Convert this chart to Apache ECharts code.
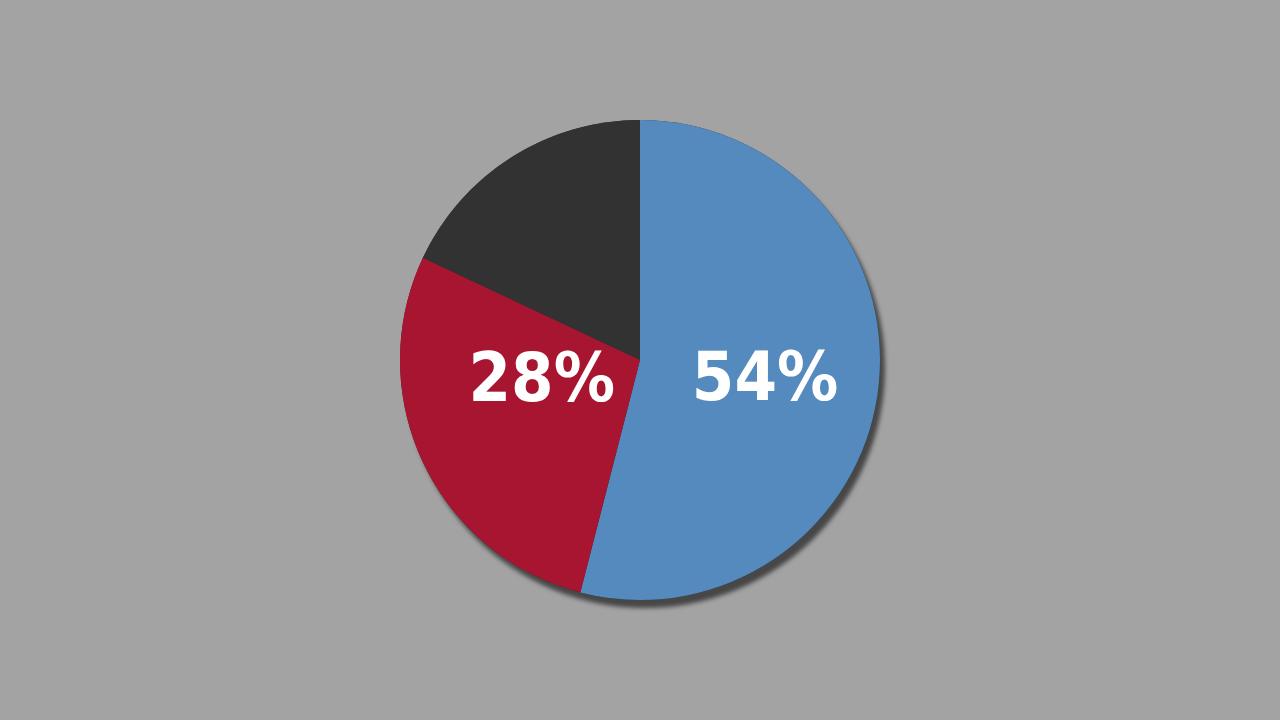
<!DOCTYPE html>
<html>
<head>
    <meta charset="utf-8">
    <title>Pie</title>
    <script src="https://cdn.jsdelivr.net/npm/echarts@6/dist/echarts.min.js"></script>
    <style>
        html, body { margin: 0; padding: 0; background: #a3a3a3; }
    </style>
</head>
<body>
    <div id="c" style="width: 1280px;height:720px;"></div>
    <script>
        // slice data, clockwise from 12 o'clock
        var names = ['A', 'B', 'C'];
        var values = [54, 28, 18];
        var colors = ['#548abd', '#a71530', '#323232'];
        var showLabel = [true, true, false];
        var labelOffsets = [[3, 7], [13, -29], [0, 0]];

        var data = names.map(function (n, i) {
            return {
                name: n,
                value: values[i],
                itemStyle: { color: colors[i] },
                label: { show: showLabel[i], offset: labelOffsets[i] }
            };
        });

        var myChart = echarts.init(document.getElementById('c'));
        var option = {
            backgroundColor: '#a3a3a3',
            animation: false,
            series: [
                {
                    // drop shadow disc under the pie
                    type: 'pie',
                    silent: true,
                    center: [640, 360],
                    radius: 240,
                    label: { show: false },
                    labelLine: { show: false },
                    itemStyle: {
                        color: '#323232',
                        shadowColor: '#474747',
                        shadowBlur: 4,
                        shadowOffsetX: 5,
                        shadowOffsetY: 8
                    },
                    data: [{ value: 1 }]
                },
                {
                    type: 'pie',
                    center: [640, 360],
                    radius: 240,
                    startAngle: 90,
                    clockwise: true,
                    label: {
                        position: 'inside',
                        formatter: '{c}%',
                        color: '#ffffff',
                        fontSize: 68,
                        fontWeight: 'bold',
                        fontFamily: '"DejaVu Sans Condensed", "DejaVu Sans", sans-serif'
                    },
                    labelLine: { show: false },
                    itemStyle: { borderWidth: 0 },
                    data: data
                }
            ]
        };
        myChart.setOption(option);
    </script>
</body>
</html>
